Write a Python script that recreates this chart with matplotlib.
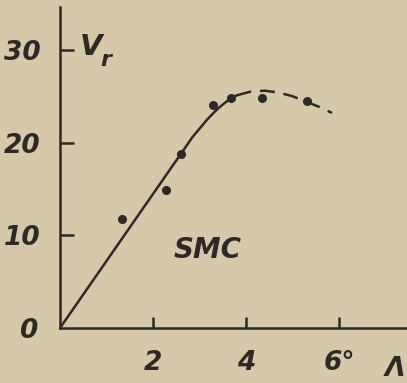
import matplotlib
matplotlib.use("Agg")
import matplotlib.pyplot as plt

# data
lambda_pts = [1.33, 2.29, 2.60, 3.28, 3.67, 4.34, 5.32]
vr_pts = [11.8, 14.9, 18.8, 24.1, 24.8, 24.8, 24.5]

curve_solid_x = [0, 2.85, 3.0, 3.15, 3.3, 3.45, 3.6, 3.8]
curve_solid_y = [0, 20.6, 21.5, 22.4, 23.2, 23.9, 24.5, 25.1]
curve_dash_x = [3.8, 4.1, 4.4, 4.7, 5.0, 5.3, 5.6, 5.85]
curve_dash_y = [25.1, 25.5, 25.6, 25.4, 25.0, 24.4, 23.8, 23.2]

x_ticks = [2, 4, 6]
x_ticklabels = ["2", "4", "6°"]
y_ticks = [10, 20, 30]
y_ticklabels = ["10", "20", "30"]

BG = "#d6c8ab"
INK = "#2f2925"
W, H = 407, 383

plt.rcParams["xtick.direction"] = "in"
plt.rcParams["ytick.direction"] = "in"

fig = plt.figure(figsize=(W / 100, H / 100), dpi=100, facecolor=BG)
ax = fig.add_axes([60 / W, 55 / H, (W - 60) / W, (328 - 7) / H])
ax.set_facecolor(BG)
ax.set_xlim(0, (W - 60) / 46.5)
ax.set_ylim(0, (328 - 7) / 9.27)

for s in ["top", "right"]:
    ax.spines[s].set_visible(False)
for s in ["left", "bottom"]:
    ax.spines[s].set_color(INK)
    ax.spines[s].set_linewidth(1.8)

font = dict(family="DejaVu Sans", style="oblique", weight="bold", color=INK)

ax.set_xticks(x_ticks)
ax.set_xticklabels(x_ticklabels, fontsize=19, **font)
ax.set_yticks(y_ticks)
ax.set_yticklabels(y_ticklabels, fontsize=19, **font)
ax.tick_params(axis="x", direction="in", length=8, width=1.8, color=INK, pad=16)
ax.tick_params(axis="y", direction="in", length=10, width=1.8, color=INK, pad=14)

ax.plot(curve_solid_x, curve_solid_y, color=INK, lw=1.8, solid_capstyle="round")
ln, = ax.plot(curve_dash_x, curve_dash_y, color=INK, lw=1.8)
ln.set_dashes([6, 3.5])
ax.plot(lambda_pts, vr_pts, "o", color=INK, ms=5.5, clip_on=False)

ax.text(-0.69, -0.3, "0", fontsize=19, ha="center", va="center", clip_on=False, **font)
ax.text(7.42, -4.4, "Λ", fontsize=19, ha="right", va="center", clip_on=False, **font)
ax.text(0.66, 30.3, "V", fontsize=21, ha="center", va="center", clip_on=False, **font)
ax.text(0.98, 28.9, "r", fontsize=16, ha="center", va="center", clip_on=False, **font)
ax.text(3.18, 8.4, "SMC", fontsize=20, ha="center", va="center", **font)

fig.savefig("out.png", dpi=100, facecolor=BG)
